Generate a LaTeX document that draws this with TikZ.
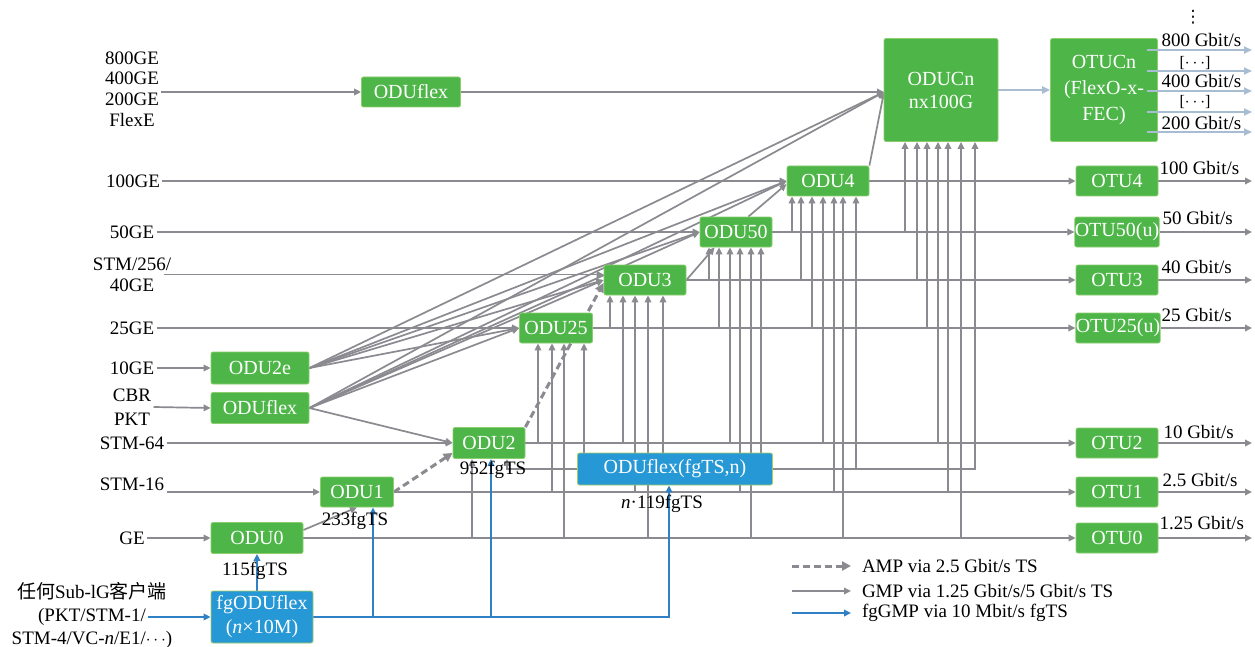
\documentclass[tikz,border=0pt]{standalone}
\usepackage{fontspec}
\setmainfont{Liberation Serif}
\newfontfamily\cjk{Noto Sans CJK SC}
\newfontfamily\djv{DejaVu Sans}
\usetikzlibrary{arrows.meta,backgrounds}
\definecolor{boxgreen}{RGB}{78,182,72}
\definecolor{boxedge}{RGB}{140,205,110}
\definecolor{boxblue}{RGB}{38,152,214}
\definecolor{blueedge}{RGB}{165,205,100}
\definecolor{lngrey}{RGB}{138,138,144}
\definecolor{lnblue}{RGB}{48,128,198}
\definecolor{lnpale}{RGB}{168,188,210}
\newcommand\myfs{\fontsize{19}{21}\selectfont}
\newcommand\boxfs{\fontsize{20}{22}\selectfont}
\newcommand\riser[3]{\draw[garrow] (#1,0 |- #2) -- (#1,0 |- #3.south);}
\tikzset{
  box/.style={fill=boxgreen, draw=boxedge, line width=0.8pt, rounded corners=2pt, text=white, inner sep=0pt, align=center, font=\boxfs},
  bluebox/.style={box, fill=boxblue, draw=blueedge},
  lab/.style={inner sep=0pt, outer sep=2.5pt, align=center, font=\myfs},
  garrow/.style={draw=lngrey, line width=1.7pt, -{Triangle[length=7pt,width=6.5pt]}},
  gline/.style={draw=lngrey, line width=1.7pt},
  dasharrow/.style={draw=lngrey, line width=3pt, dash pattern=on 7pt off 4pt, -{Triangle[length=9pt,width=9pt]}},
  barrow/.style={draw=lnblue, line width=1.8pt, -{Triangle[length=7pt,width=6.5pt]}},
  parrow/.style={draw=lnpale, line width=2pt, -{Triangle[length=8pt,width=7pt]}}
}
\begin{document}
\begin{tikzpicture}[x=1pt,y=-1pt]
\useasboundingbox (0,0) rectangle (1255,647);
% ---------- boxes ----------
\node[box,minimum width=99pt,minimum height=30pt] (oduflexT) at (411,92) {ODUflex};
\node[box,minimum width=114pt,minimum height=103pt,font=\fontsize{20}{23}\selectfont] (oducn) at (941,90) {ODUCn\\nx100G};
\node[box,minimum width=107pt,minimum height=103pt,font=\fontsize{20}{26}\selectfont] (otucn) at (1104,90) {OTUCn\\(FlexO-x-\\FEC)};
\node[box,minimum width=82pt,minimum height=30pt] (odu4) at (828,181) {ODU4};
\node[box,minimum width=72pt,minimum height=30pt] (odu50) at (736,232) {ODU50};
\node[box,minimum width=82pt,minimum height=30pt] (odu3) at (645,280) {ODU3};
\node[box,minimum width=73pt,minimum height=30pt] (odu25) at (556,328) {ODU25};
\node[box,minimum width=98pt,minimum height=32pt] (odu2e) at (260,368) {ODU2e};
\node[box,minimum width=98pt,minimum height=31pt] (oduflexL) at (260,408) {ODUflex};
\node[box,minimum width=72pt,minimum height=31pt] (odu2) at (489,443) {ODU2};
\node[bluebox,minimum width=195pt,minimum height=32pt] (fgts) at (675,469) {ODUflex(fgTS,n)};
\node[box,minimum width=73pt,minimum height=30pt] (odu1) at (357,492) {ODU1};
\node[box,minimum width=92pt,minimum height=31pt] (odu0) at (257,538) {ODU0};
\node[bluebox,minimum width=102pt,minimum height=52pt,font=\fontsize{20}{24}\selectfont] (fgodu) at (262,617) {fgODUflex\\(\textit{n}×10M)};
\node[box,minimum width=82pt,minimum height=30pt] (otu4) at (1117,181) {OTU4};
\node[box,minimum width=82pt,minimum height=30pt] (otu50) at (1117,232) {OTU50(u)};
\node[box,minimum width=82pt,minimum height=30pt] (otu3) at (1117,280) {OTU3};
\node[box,minimum width=83pt,minimum height=30pt] (otu25) at (1118,328) {OTU25(u)};
\node[box,minimum width=82pt,minimum height=30pt] (otu2) at (1117,443) {OTU2};
\node[box,minimum width=82pt,minimum height=30pt] (otu1) at (1117,492) {OTU1};
\node[box,minimum width=82pt,minimum height=30pt] (otu0) at (1117,538) {OTU0};
% ---------- left labels ----------
\node[lab,font=\fontsize{19}{20.7}\selectfont] (in800) at (132,89) {800GE\\400GE\\200GE\\FlexE};
\node[lab] (in100) at (133,181) {100GE};
\node[lab] (in50) at (132,232) {50GE};
\node[lab] (in256) at (132,274.5) {STM/256/\\40GE};
\node[lab] (in25) at (132,328) {25GE};
\node[lab] (in10) at (132,368) {10GE};
\node[lab,font=\fontsize{19}{24}\selectfont] (incbr) at (132,407) {CBR\\PKT};
\node[lab] (in64) at (132,443) {STM-64};
\node[lab] (in16) at (132,484) {STM-16};
\node[lab] (inge) at (132,538) {GE};
\node[lab,font=\fontsize{19}{23}\selectfont] (insub) at (92,615) {{\cjk 任何}Sub-lG{\cjk 客户端}\\(PKT/STM-1/\\STM-4/VC-\textit{n}/E1/$\cdots$)};
\coordinate (subout) at (148,617);
% ---------- right labels ----------
\node[lab,font=\djv\fontsize{17}{19}\selectfont] (vd) at (1193,17) {⋮};
\node[lab,anchor=west] (o800) at (1159,40.5) {800 Gbit/s};
\node[lab,font=\fontsize{16}{18}\selectfont] (dots1) at (1195,63) {[$\cdots$]};
\node[lab,anchor=west] (o400) at (1159,81) {400 Gbit/s};
\node[lab,font=\fontsize{16}{18}\selectfont] (dots2) at (1195,102) {[$\cdots$]};
\node[lab,anchor=west] (o200) at (1159,123) {200 Gbit/s};
\node[lab,anchor=west] (o100) at (1157,168) {100 Gbit/s};
\node[lab,anchor=west] (o50) at (1160,218) {50 Gbit/s};
\node[lab,anchor=west] (o40) at (1159,267) {40 Gbit/s};
\node[lab,anchor=west] (o25) at (1159,315) {25 Gbit/s};
\node[lab,anchor=west] (o10) at (1161,432) {10 Gbit/s};
\node[lab,anchor=west] (o2) at (1160,480) {2.5 Gbit/s};
\node[lab,anchor=west] (o1) at (1157,523) {1.25 Gbit/s};
% ---------- box annotations ----------
\node[lab] (t115) at (255,571) {115fgTS};
\node[lab] (t233) at (355,521) {233fgTS};
\node[lab] (t952) at (493,470) {952fgTS};
\node[lab] (t119) at (662,504) {\textit{n}·119fgTS};
% ---------- legend ----------
\node[lab,anchor=west,outer sep=0pt] (leg1) at (862,566) {AMP via 2.5 Gbit/s TS};
\node[lab,anchor=west,outer sep=0pt] (leg2) at (862,591) {GMP via 1.25 Gbit/s/5 Gbit/s TS};
\node[lab,anchor=west,outer sep=0pt] (leg3) at (862,613) {fgGMP via 10 Mbit/s fgTS};
\coordinate (l1s) at (792,566);
\coordinate (l2s) at (792,591);
\coordinate (l3s) at (792,613);
\coordinate (cnin) at (884,92);
\coordinate (rx) at (1252,0);
\coordinate (ocx) at ([xshift=-11pt]otucn.east);
% OTUCn outputs (over the box)
\foreach \y in {50,71,91,112,132} \draw[parrow] (ocx |- 0,\y) -- (rx |- 0,\y);
% legend arrows
\draw[dasharrow] (l1s) -- ([xshift=-11pt]leg1.west);
\draw[garrow] (l2s) -- ([xshift=-11pt]leg2.west);
\draw[barrow] (l3s) -- ([xshift=-11pt]leg3.west);
% ---------- connectors ----------
\begin{pgfonlayer}{background}
\fill[white] (0,0) rectangle (1255,647);
% client inputs
\draw[garrow] (in800.east |- oduflexT.west) -- (oduflexT.west);
\draw[garrow] (oduflexT.east) -- (cnin);
\draw[garrow] (in100.east) -- (odu4.west);
\draw[garrow] (in50.east) -- (odu50.west);
\draw[garrow] ([xshift=-10pt]in256.east) -- (odu3.west |- in256.east);
\draw[garrow] (in25.east) -- (odu25.west);
\draw[garrow] (in10.east) -- (odu2e.west);
\draw[garrow] (incbr.east) -- (oduflexL.west);
\draw[garrow] (in64.east) -- (odu2.west);
\draw[garrow] (in16.east |- odu1.west) -- (odu1.west);
\draw[garrow] (inge.east) -- (odu0.west);
\draw[barrow] (subout) -- (fgodu.west);
% fans
\foreach \t in {odu25.west, odu3.west, odu50.west, odu4.west, cnin} {
  \draw[garrow] (odu2e.east) -- (\t);
  \draw[garrow] (oduflexL.east) -- (\t);
}
\draw[garrow] (oduflexL.east) -- (odu2.west);
% chain
\draw[garrow] ([yshift=8pt]odu0.east) -- (odu1.south);
\draw[dasharrow] (odu1.east) -- ([yshift=6pt]odu2.south west);
\draw[dasharrow] (odu2.north east) -- ([yshift=-3pt]odu3.west);
\draw[garrow] (odu3.east) -- ([xshift=15pt]odu50.south west);
\draw[garrow] ([xshift=-24pt]odu50.north east) -- ([yshift=-3pt]odu4.west);
\draw[garrow] (odu4.north east) -- (cnin);
% ODU -> OTU
\foreach \a/\b in {odu4/otu4, odu50/otu50, odu3/otu3, odu25/otu25, odu2/otu2, odu1/otu1, odu0/otu0}
  \draw[garrow] (\a.east) -- (\b.west);
\foreach \b in {otu4, otu50, otu3, otu25, otu2, otu1, otu0}
  \draw[garrow] (\b.east) -- (rx |- \b.east);
\draw[parrow] (oducn.east) -- (otucn.west);
% ODUflex(fgTS,n) lines
\draw[garrow] (fgts.east) -- (975,0 |- fgts.east) -- (975,0 |- oducn.south);
\draw[garrow] (fgts.west) -- (507,0 |- fgts.west) -- (507,0 |- odu2.south);
% risers
\riser{472}{odu0.east}{odu2}
\riser{538}{odu2.east}{odu25}
\riser{552}{odu1.east}{odu25}
\riser{564}{odu0.east}{odu25}
\riser{584}{fgts.north}{odu25}
\riser{610}{odu25.east}{odu3}
\riser{623}{odu2.east}{odu3}
\riser{635}{odu1.east}{odu3}
\riser{648}{odu0.east}{odu3}
\riser{663}{fgts.north}{odu3}
\riser{709}{odu3.east}{odu50}
\riser{719}{odu25.east}{odu50}
\riser{730}{odu2.east}{odu50}
\riser{740}{odu1.east}{odu50}
\riser{751}{odu0.east}{odu50}
\riser{761}{fgts.north}{odu50}
\riser{792}{odu50.east}{odu4}
\riser{801}{odu3.east}{odu4}
\riser{812}{odu25.east}{odu4}
\riser{823}{odu2.east}{odu4}
\riser{834}{odu1.east}{odu4}
\riser{843}{odu0.east}{odu4}
\riser{856}{fgts.east}{odu4}
\riser{905}{odu50.east}{oducn}
\riser{917}{odu3.east}{oducn}
\riser{927}{odu25.east}{oducn}
\riser{938}{odu2.east}{oducn}
\riser{948}{odu1.east}{oducn}
\riser{961}{odu0.east}{oducn}
% fgODUflex (blue)
\draw[barrow] (odu0.south |- fgodu.north) -- (odu0.south);
\draw[barrow] (fgodu.east) -- (669,0 |- fgodu.east) -- (669,0 |- fgts.south);
\draw[barrow] (373,0 |- fgodu.east) -- (373,0 |- odu1.south);
\draw[barrow] (491,0 |- fgodu.east) -- (491,0 |- odu2.south);
\end{pgfonlayer}
\end{tikzpicture}
\end{document}
